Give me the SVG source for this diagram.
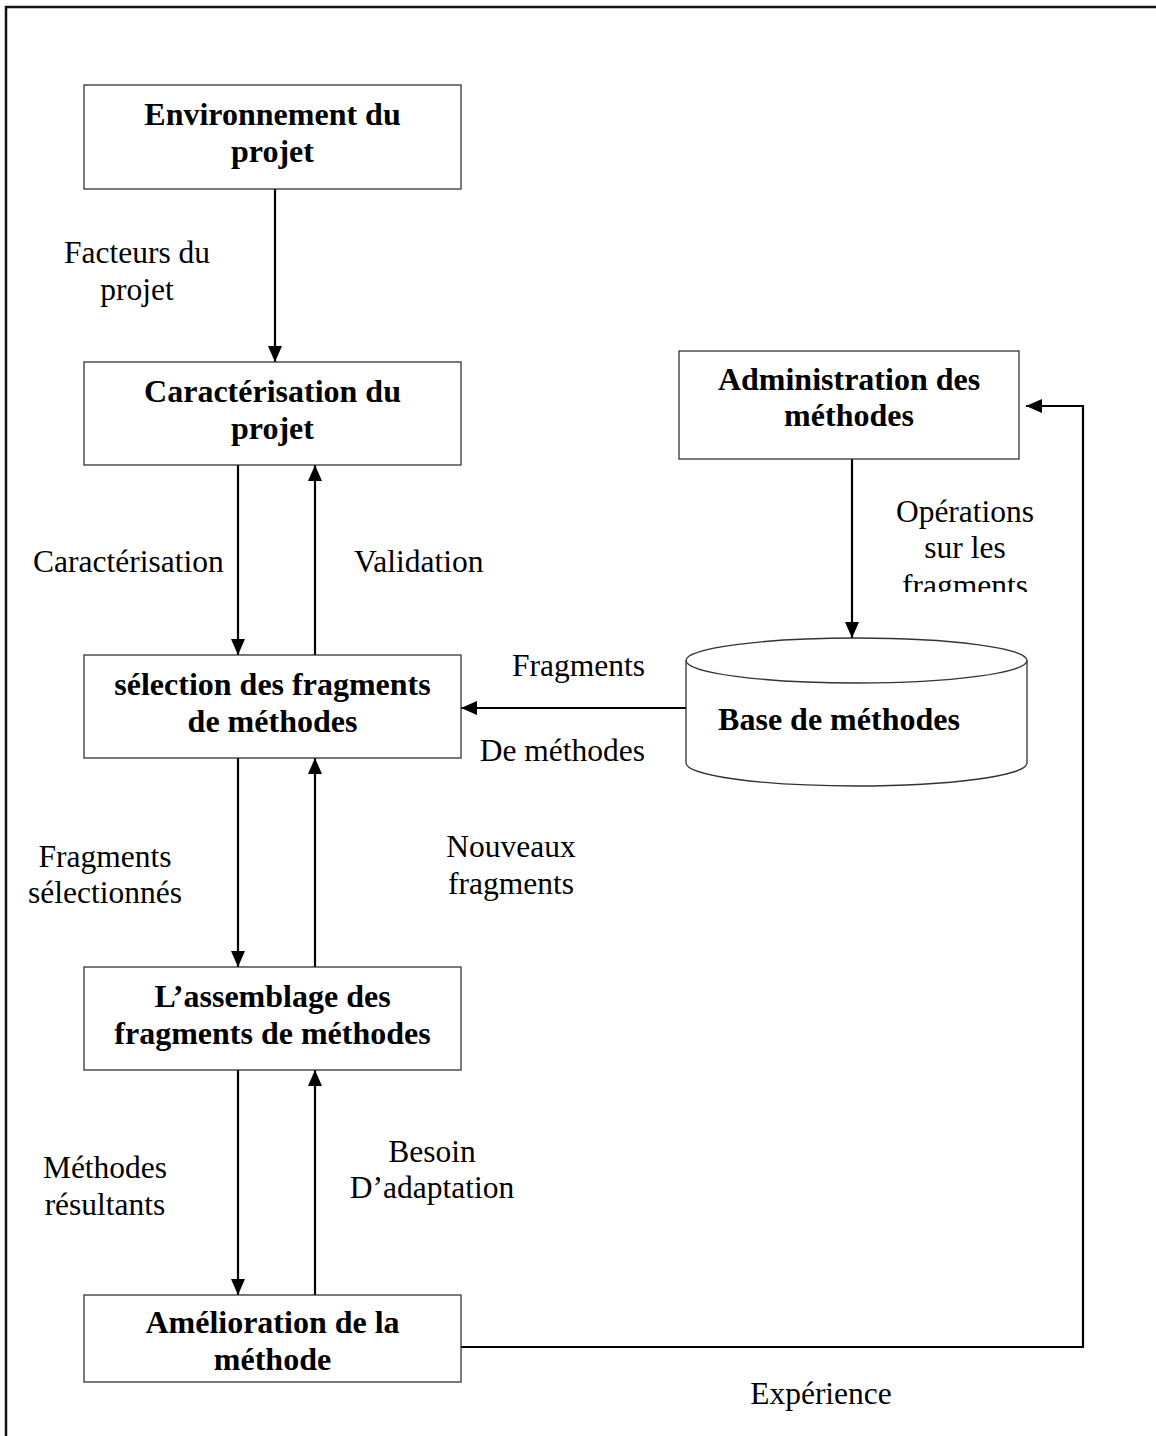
<svg xmlns="http://www.w3.org/2000/svg" width="1156" height="1436" viewBox="0 0 1156 1436">
  <style>
    .box { fill: #fff; stroke: #333; stroke-width: 1.3; }
    .frame { fill: none; stroke: #111; stroke-width: 2.5; }
    .wire { fill: none; stroke: #000; stroke-width: 2.2; }
    .title { font-family: "Liberation Serif", "Times New Roman", serif; font-weight: bold; font-size: 32px; fill: #000; text-anchor: middle; }
    .lbl { font-family: "Liberation Serif", "Times New Roman", serif; font-size: 31.5px; fill: #000; }
    .mid { text-anchor: middle; }
    .end { text-anchor: end; }
  </style>
  <defs>
    <marker id="head" viewBox="0 0 16 14" refX="16" refY="7" markerWidth="16" markerHeight="14" markerUnits="userSpaceOnUse" orient="auto">
      <path d="M0,0 L16,7 L0,14 z" fill="#000"/>
    </marker>
    <clipPath id="opsClip">
      <rect x="860" y="480" width="220" height="112"/>
    </clipPath>
  </defs>

  <rect width="1156" height="1436" fill="#fff"/>

  <!-- page frame (right and bottom edges run off the page) -->
  <path class="frame" d="M6,1436 V7 H1160"/>

  <!-- connectors -->
  <g id="connectors">
    <line class="wire" x1="275" y1="189" x2="275" y2="362" marker-end="url(#head)"/>
    <line class="wire" x1="238" y1="465" x2="238" y2="655" marker-end="url(#head)"/>
    <line class="wire" x1="315" y1="655" x2="315" y2="465" marker-end="url(#head)"/>
    <line class="wire" x1="238" y1="758" x2="238" y2="967" marker-end="url(#head)"/>
    <line class="wire" x1="315" y1="967" x2="315" y2="758" marker-end="url(#head)"/>
    <line class="wire" x1="238" y1="1070" x2="238" y2="1295" marker-end="url(#head)"/>
    <line class="wire" x1="315" y1="1295" x2="315" y2="1070" marker-end="url(#head)"/>
    <line class="wire" x1="852" y1="456" x2="852" y2="638" marker-end="url(#head)"/>
    <line class="wire" x1="686" y1="708" x2="461" y2="708" marker-end="url(#head)"/>
    <path class="wire" d="M461,1347 H1083 V406 H1026" marker-end="url(#head)"/>
  </g>

  <!-- connector labels -->
  <g id="labels" class="lbl">
    <text class="mid" x="137" y="263">Facteurs du</text>
    <text class="mid" x="137" y="300">projet</text>
    <text x="33" y="572">Caractérisation</text>
    <text x="354" y="572">Validation</text>
    <g clip-path="url(#opsClip)">
      <text class="mid" x="965" y="522">Opérations</text>
      <text class="mid" x="965" y="558">sur les</text>
      <text class="mid" x="965" y="596">fragments</text>
    </g>
    <text class="end" x="645" y="676">Fragments</text>
    <text class="end" x="645" y="761">De méthodes</text>
    <text class="mid" x="105" y="867">Fragments</text>
    <text class="mid" x="105" y="903">sélectionnés</text>
    <text class="mid" x="511" y="857">Nouveaux</text>
    <text class="mid" x="511" y="894">fragments</text>
    <text class="mid" x="105" y="1178">Méthodes</text>
    <text class="mid" x="105" y="1215">résultants</text>
    <text class="mid" x="432" y="1162">Besoin</text>
    <text class="mid" x="432" y="1198">D’adaptation</text>
    <text class="mid" x="821" y="1404">Expérience</text>
  </g>

  <!-- nodes -->
  <g id="env">
    <rect class="box" x="84" y="85" width="377" height="104"/>
    <text class="title" x="272.5" y="125">Environnement du</text>
    <text class="title" x="272.5" y="162">projet</text>
  </g>
  <g id="caract">
    <rect class="box" x="84" y="362" width="377" height="103"/>
    <text class="title" x="272.5" y="402">Caractérisation du</text>
    <text class="title" x="272.5" y="439">projet</text>
  </g>
  <g id="selection">
    <rect class="box" x="84" y="655" width="377" height="103"/>
    <text class="title" x="272.5" y="695">sélection des fragments</text>
    <text class="title" x="272.5" y="732">de méthodes</text>
  </g>
  <g id="assemblage">
    <rect class="box" x="84" y="967" width="377" height="103"/>
    <text class="title" x="272.5" y="1007">L’assemblage des</text>
    <text class="title" x="272.5" y="1044">fragments de méthodes</text>
  </g>
  <g id="amelioration">
    <rect class="box" x="84" y="1295" width="377" height="87"/>
    <text class="title" x="272.5" y="1333">Amélioration de la</text>
    <text class="title" x="272.5" y="1370">méthode</text>
  </g>
  <g id="admin">
    <rect class="box" x="679" y="351" width="340" height="108"/>
    <text class="title" x="849" y="390">Administration des</text>
    <text class="title" x="849" y="426">méthodes</text>
  </g>
  <g id="base">
    <path class="box" d="M686,660.5 V763 A170.5,23 0 0 0 1027,763 V660.5"/>
    <ellipse class="box" cx="856.5" cy="660.5" rx="170.5" ry="22.5"/>
    <text class="title" x="839" y="730">Base de méthodes</text>
  </g>
</svg>
